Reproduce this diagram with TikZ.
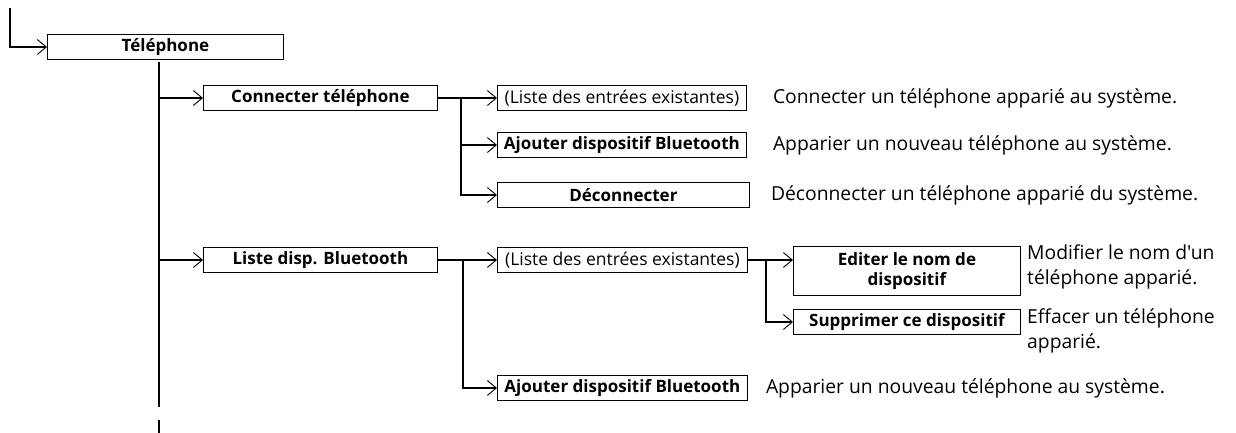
\documentclass[tikz,border=0pt]{standalone}
\usepackage{fontspec}
\setmainfont{Open Sans}[Ligatures=TeXOff]
\usepackage{tikz}
\usetikzlibrary{arrows.meta, positioning}
\tikzstyle{menubox} = [rectangle, draw=black, line width=0.8pt, minimum height=25pt,
                       inner sep=1pt, anchor=west, align=center,
                       font=\fontsize{17}{20}\selectfont\bfseries]
\tikzstyle{plainbox} = [menubox, font=\fontsize{17.5}{20}\selectfont]
\tikzstyle{desc} = [anchor=west, align=left, inner sep=0pt, font=\fontsize{19.3}{25}\selectfont]
\tikzstyle{link} = [line width=1.8pt]
\tikzstyle{arrow} = [link, -{Straight Barb[length=9pt, width=15pt, line width=0.9pt]}]

\begin{document}
\begin{tikzpicture}[x=1pt, y=-1pt]
  \useasboundingbox (0,0) rectangle (1236,433);

  % menu entries
  \node (tel) [menubox, minimum width=236pt] at (47,47) {Téléphone};
  \node (conn) [menubox, minimum width=234pt] at (203,98) {Connecter téléphone};
  \node (list1) [plainbox, minimum width=249pt] at (497,98) {(Liste des entrées existantes)};
  \node (add1) [menubox, minimum width=249pt] at (497,145) {Ajouter dispositif Bluetooth};
  \node (disc) [menubox, minimum width=252pt] at (497,195) {Déconnecter};
  \node (btlist) [menubox, minimum width=234pt] at (203,260) {Liste disp. Bluetooth};
  \node (list2) [plainbox, minimum width=250pt] at (497,260) {(Liste des entrées existantes)};
  \node (edit) [menubox, minimum width=227pt, minimum height=49pt] at (793,271) {Editer le nom de\\dispositif};
  \node (del) [menubox, minimum width=227pt] at (793,322) {Supprimer ce dispositif};
  \node (add2) [menubox, minimum width=250pt] at (497,388) {Ajouter dispositif Bluetooth};

  % descriptions
  \node (dconn) [desc, right=26pt of list1] {Connecter un téléphone apparié au système.};
  \node (dadd1) [desc, right=26pt of add1] {Apparier un nouveau téléphone au système.};
  \node (ddisc) [desc, right=21pt of disc] {Déconnecter un téléphone apparié du système.};
  \node (dedit) [desc, anchor=north west] at (1027,245) {Modifier le nom d'un\\téléphone apparié.};
  \node (ddel) [desc, anchor=north west] at (1027,309) {Effacer un téléphone\\apparié.};
  \node (dadd2) [desc, right=18pt of add2] {Apparier un nouveau téléphone au système.};

  % branch points
  \coordinate (top) at (10,8);
  \coordinate (trunk) at (159,62);
  \coordinate (trunkend) at (159,407);
  \coordinate (tail) at (159,420);
  \coordinate (tailend) at (159,433);
  \coordinate (br1) at (461,98);
  \coordinate (br2) at (463,260);
  \coordinate (br3) at (766,260);

  \draw [arrow] (top) |- (tel.west);
  \draw [link] (trunk) -- (trunkend);
  \draw [link] (tail) -- (tailend);
  \draw [arrow] (conn.west -| trunk) -- (conn.west);
  \draw [arrow] (btlist.west -| trunk) -- (btlist.west);

  \draw [arrow] (conn.east) -- (list1.west);
  \draw [arrow] (br1) |- (add1.west);
  \draw [arrow] (br1) |- (disc.west);

  \draw [arrow] (btlist.east) -- (list2.west);
  \draw [arrow] (br2) |- (add2.west);
  \draw [arrow] (list2.east) -- (edit.west |- list2.east);
  \draw [arrow] (br3) |- (del.west);
\end{tikzpicture}
\end{document}
